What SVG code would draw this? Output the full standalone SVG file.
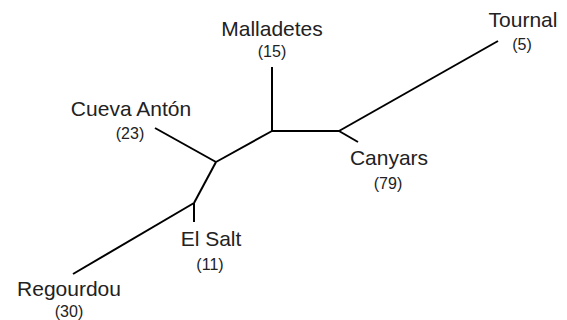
<svg xmlns="http://www.w3.org/2000/svg" width="567" height="320" viewBox="0 0 567 320">
<style>
.e{stroke:#000;stroke-width:2;fill:none;stroke-linecap:butt}
.n{font-family:"Liberation Sans",Arial,sans-serif;font-size:21px;fill:#222;text-anchor:middle}
.c{font-family:"Liberation Sans",Arial,sans-serif;font-size:16px;fill:#222;text-anchor:middle}
</style>
<rect width="567" height="320" fill="#fff"/>
<g id="connectors">
<line class="e" x1="498" y1="41" x2="339" y2="131"/>
<line class="e" x1="339" y1="131" x2="358" y2="142"/>
<line class="e" x1="272" y1="131" x2="339" y2="131"/>
<line class="e" x1="272" y1="67" x2="272" y2="131"/>
<line class="e" x1="272" y1="131" x2="216" y2="162"/>
<line class="e" x1="155" y1="128" x2="216" y2="162"/>
<line class="e" x1="216" y1="162" x2="194" y2="203"/>
<line class="e" x1="194" y1="203" x2="194" y2="222"/>
<line class="e" x1="194" y1="203" x2="73" y2="274"/>
</g>
<g id="tournal"><text class="n" x="523" y="27">Tournal</text><text class="c" x="522" y="50">(5)</text></g>
<g id="malladetes"><text class="n" x="272" y="36">Malladetes</text><text class="c" x="272" y="57">(15)</text></g>
<g id="cueva-anton"><text class="n" x="131" y="116">Cueva Antón</text><text class="c" x="130" y="139">(23)</text></g>
<g id="canyars"><text class="n" x="389" y="165">Canyars</text><text class="c" x="388" y="189">(79)</text></g>
<g id="el-salt"><text class="n" x="211" y="246">El Salt</text><text class="c" x="210" y="270">(11)</text></g>
<g id="regourdou"><text class="n" x="69" y="296">Regourdou</text><text class="c" x="69" y="317">(30)</text></g>
</svg>
